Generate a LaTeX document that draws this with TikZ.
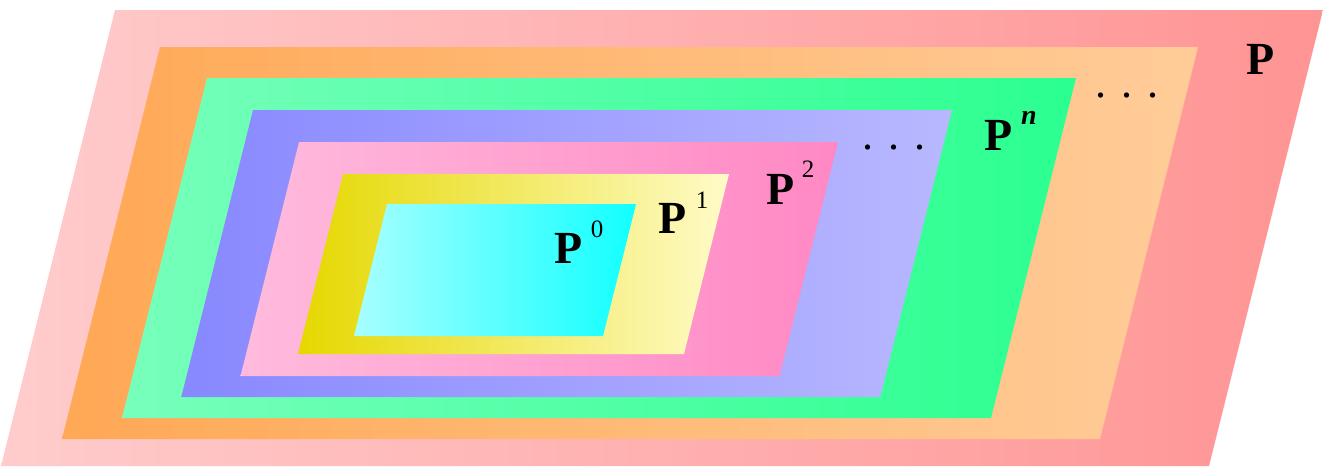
\documentclass[tikz,border=0pt]{standalone}
\usepackage{fontspec}
\setmainfont{Liberation Serif}
\definecolor{outerL}{HTML}{FFCCCC}
\definecolor{outerR}{HTML}{FF9494}
\definecolor{orangeL}{HTML}{FFA855}
\definecolor{orangeR}{HTML}{FFCC99}
\definecolor{greenL}{HTML}{77FFBB}
\definecolor{greenR}{HTML}{2BFF90}
\definecolor{blueL}{HTML}{8888FF}
\definecolor{blueR}{HTML}{B8B8FF}
\definecolor{pinkL}{HTML}{FFBBDD}
\definecolor{pinkR}{HTML}{FF88C4}
\definecolor{yellowL}{HTML}{E5D800}
\definecolor{yellowR}{HTML}{FFFBC8}
\definecolor{cyanL}{HTML}{A8FFFF}
\definecolor{cyanR}{HTML}{11FFFF}

\begin{document}
\begin{tikzpicture}[x=1pt,y=-1pt,
  setlbl/.style={inner sep=0pt,font=\fontsize{46}{50}\selectfont\bfseries},
  setsup/.style={inner sep=0pt,font=\fontsize{25}{29}\selectfont},
  setdots/.style={inner sep=0pt,font=\fontsize{44}{48}\selectfont}]
  \useasboundingbox (0,0) rectangle (1323,466);
  % nested sets: top y / bottom y / top-left x / top-right x / colours
  \foreach \yt/\yb/\xl/\xr/\cl/\cr in {
      10/466/115/1323/outerL/outerR,
      47/439/160/1198/orangeL/orangeR,
      78/418/207/1076/greenL/greenR,
      110/397/253/952/blueL/blueR,
      142/376/299/838/pinkL/pinkR,
      174/354/343/729/yellowL/yellowR,
      204/336/387/636/cyanL/cyanR}
  {
    \pgfmathsetmacro{\dx}{0.25*(\yb-\yt)}
    \shade[left color=\cl,right color=\cr]
      (\xl,\yt) -- (\xr,\yt) -- (\xr-\dx,\yb) -- (\xl-\dx,\yb) -- cycle;
  }

  \node[setlbl] (p0) at (569,248) {P};
  \node[setsup] (s0) at (597,229) {0};
  \node[setlbl] (p1) at (673,218) {P};
  \node[setsup] (s1) at (702,200) {1};
  \node[setlbl] (p2) at (781,189) {P};
  \node[setsup] (s2) at (808,169) {2};
  \node[setlbl] (pn) at (999,135) {P};
  \node[setsup,font=\fontsize{28}{32}\selectfont\bfseries\itshape] (sn) at (1029,118) {n};
  \node[setlbl] (p) at (1261,59) {P};

  \node[setdots] (d1) at (894,148) {. . .};
  \node[setdots] (d2) at (1127,96) {. . .};
\end{tikzpicture}
\end{document}
